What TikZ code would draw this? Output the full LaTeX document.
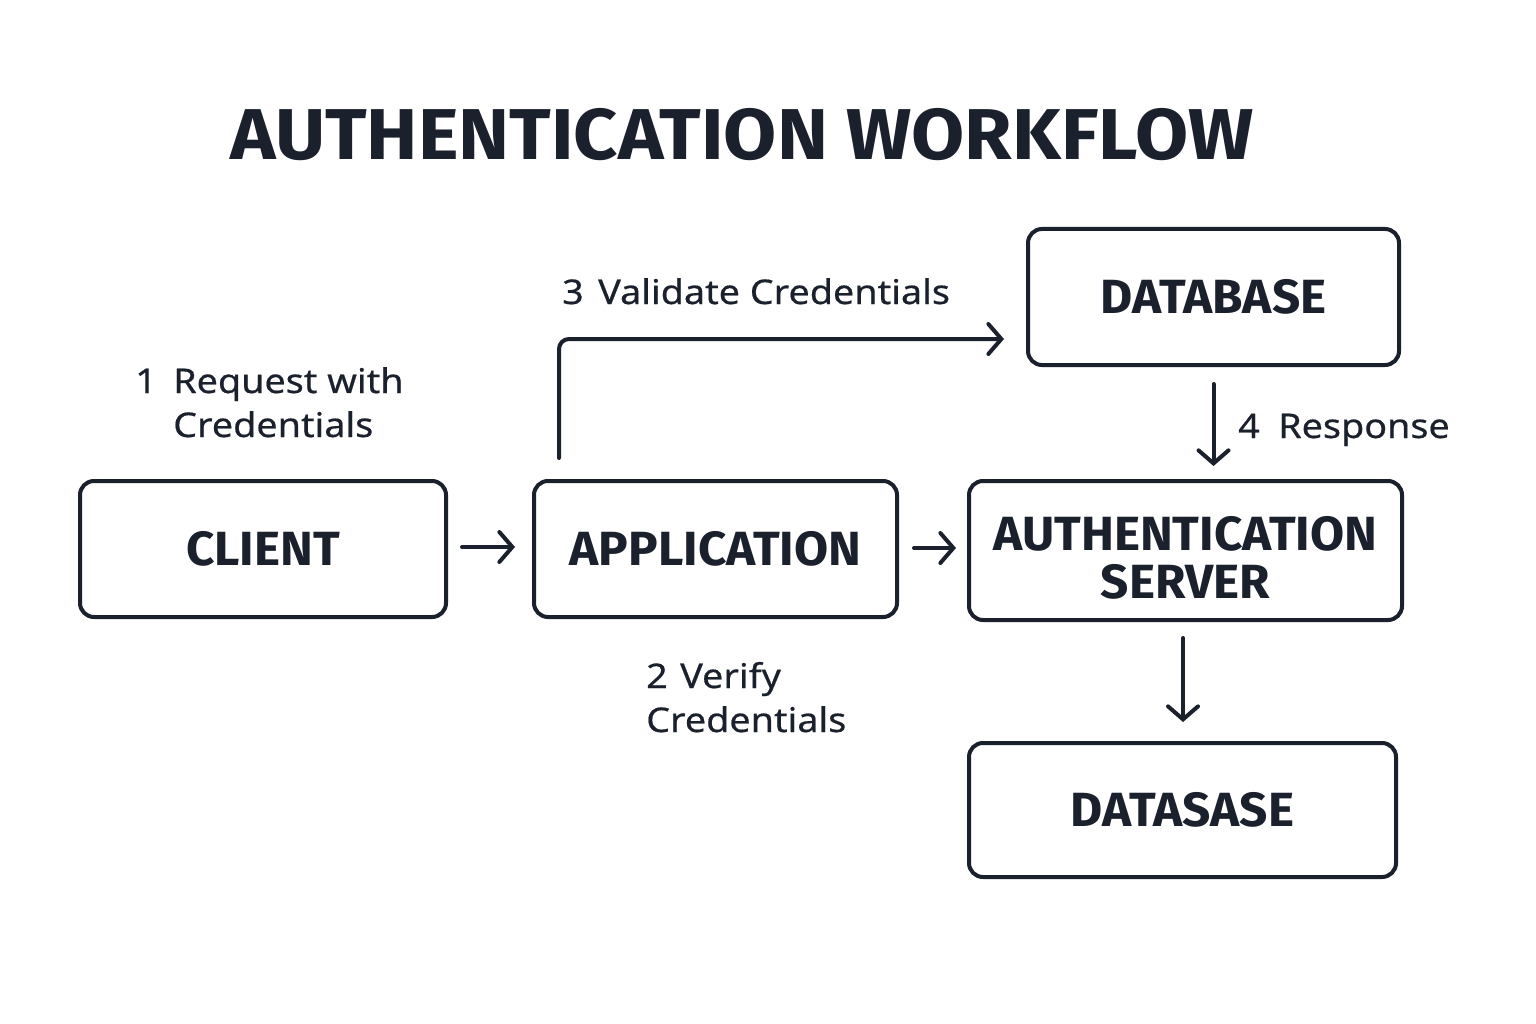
\documentclass[tikz,border=0pt]{standalone}
\usepackage{fontspec}
\setmainfont{Fira Sans}
\newfontfamily\lblfont[FakeStretch=1.11,FakeBold=0.5]{Noto Sans}
\newfontfamily\titlefont[FakeStretch=1.07]{Fira Sans}
\newfontfamily\boxfont[FakeStretch=1.03]{Fira Sans}
\usetikzlibrary{arrows.meta}
\definecolor{ink}{RGB}{26,32,44}
\tikzset{
  box/.style={draw=ink, line width=4pt, rounded corners=14pt, text=ink,
    font=\boxfont\fontsize{48}{52}\selectfont\bfseries, align=center, inner sep=0pt},
  conn/.style={draw=ink, line width=4pt, line cap=round,
    -{Straight Barb[length=13pt,width=30pt,line width=4pt,line cap=round]}},
  lbl/.style={text=ink, font=\lblfont\fontsize{34}{44}\selectfont, inner sep=0pt},
}
\begin{document}
\begin{tikzpicture}[x=1pt,y=-1pt]
\useasboundingbox (0,0) rectangle (1536,1024);
\fill[white] (0,0) rectangle (1536,1024);

\node[text=ink, font=\titlefont\fontsize{72}{76}\selectfont\bfseries, anchor=base, inner sep=0pt] (title) at (742,160) {AUTHENTICATION WORKFLOW};

\node[box, minimum width=366pt, minimum height=136pt] (client) at (263,549) {CLIENT};
\node[box, minimum width=363pt, minimum height=136pt] (app) at (715.5,549) {APPLICATION};
\node[box, minimum width=433pt, minimum height=139pt] (auth) at (1185.5,550.5) {\rule{0pt}{48pt}AUTHENTICATION\\[-4pt]SERVER};
\node[box, minimum width=371pt, minimum height=136pt] (db) at (1213.5,297) {DATABASE};
\node[box, minimum width=427pt, minimum height=134pt] (dsase) at (1182.5,810) {DATASASE};

\draw[conn, shorten <=14pt, shorten >=17pt] ([yshift=2pt]client.east) -- ([yshift=2pt]app.west);
\draw[conn, shorten <=15pt, shorten >=11pt] ([yshift=1pt]app.east) -- ([yshift=2.5pt]auth.west);
\draw[conn, rounded corners=10pt, shorten <=21pt, shorten >=22pt] ([xshift=27pt]app.north west) |- ([yshift=-42pt]db.west);
\draw[conn, shorten <=17pt, shorten >=13pt] (db.south) -- (db.south |- auth.north);
\draw[conn, shorten <=16pt, shorten >=19pt] ([xshift=-2.5pt]auth.south) -- ([xshift=0.5pt]dsase.north);

\node[lbl, anchor=base west] (n1) at (135,393) {1};
\node[lbl, anchor=base west] (l1a) at (173,393) {Request with};
\node[lbl, anchor=base west] (l1b) at (173,437) {Credentials};

\node[lbl, anchor=base west] (n3) at (562,304) {3};
\node[lbl, anchor=base west] (l3) at (598,304) {Validate Credentials};

\node[lbl, anchor=base west] (n4) at (1238,438) {4};
\node[lbl, anchor=base west] (l4) at (1278,438) {Response};

\node[lbl, anchor=base west] (n2) at (646,688) {2};
\node[lbl, anchor=base west] (l2a) at (680,688) {Verify};
\node[lbl, anchor=base west] (l2b) at (646,732) {Credentials};
\end{tikzpicture}
\end{document}
